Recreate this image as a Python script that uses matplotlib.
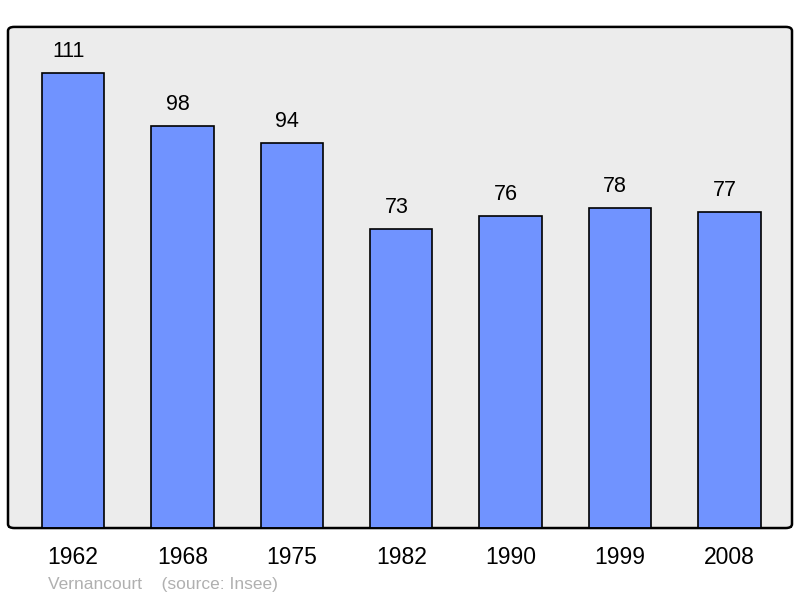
import matplotlib.pyplot as plt
from matplotlib.patches import FancyBboxPatch

plt.rcParams['font.family'] = ['Liberation Sans', 'DejaVu Sans']

years = ["1962", "1968", "1975", "1982", "1990", "1999", "2008"]
population = [111, 98, 94, 73, 76, 78, 77]

fig = plt.figure(figsize=(8, 5.98), dpi=100)
ax = fig.add_axes([0.01, 0.117, 0.98, 0.838])

x = range(len(years))
ax.bar(x, population, width=0.57, color="#7093ff", edgecolor="black", linewidth=1.2, zorder=3)

for xi, v in zip(x, population):
    ax.annotate(str(v), (xi, v), xytext=(-3.5, 15.5), textcoords="offset points",
                ha="center", va="center", fontsize=15.5)

ax.set_xlim(-0.594, 6.572)
ax.set_ylim(0, 122.2)
ax.set_xticks(list(x))
ax.set_xticklabels(years, fontsize=16.5)
ax.tick_params(axis="x", length=0, pad=13)
ax.set_yticks([])
for s in ax.spines.values():
    s.set_visible(False)
ax.set_facecolor("none")

frame = FancyBboxPatch((0, 0), 1, 1, boxstyle="round,pad=0,rounding_size=0.008",
                       transform=ax.transAxes, facecolor="#ececec", edgecolor="black",
                       linewidth=1.8, zorder=0, clip_on=False)
ax.add_patch(frame)
# redraw bottom line over the bars
ax.axhline(0, color="black", linewidth=1.8, zorder=4)

fig.text(0.06, 0.023, "Vernancourt    (source: Insee)", fontsize=12.5, color="#b0b0b0", va="center")

fig.savefig("out.png", dpi=100)
